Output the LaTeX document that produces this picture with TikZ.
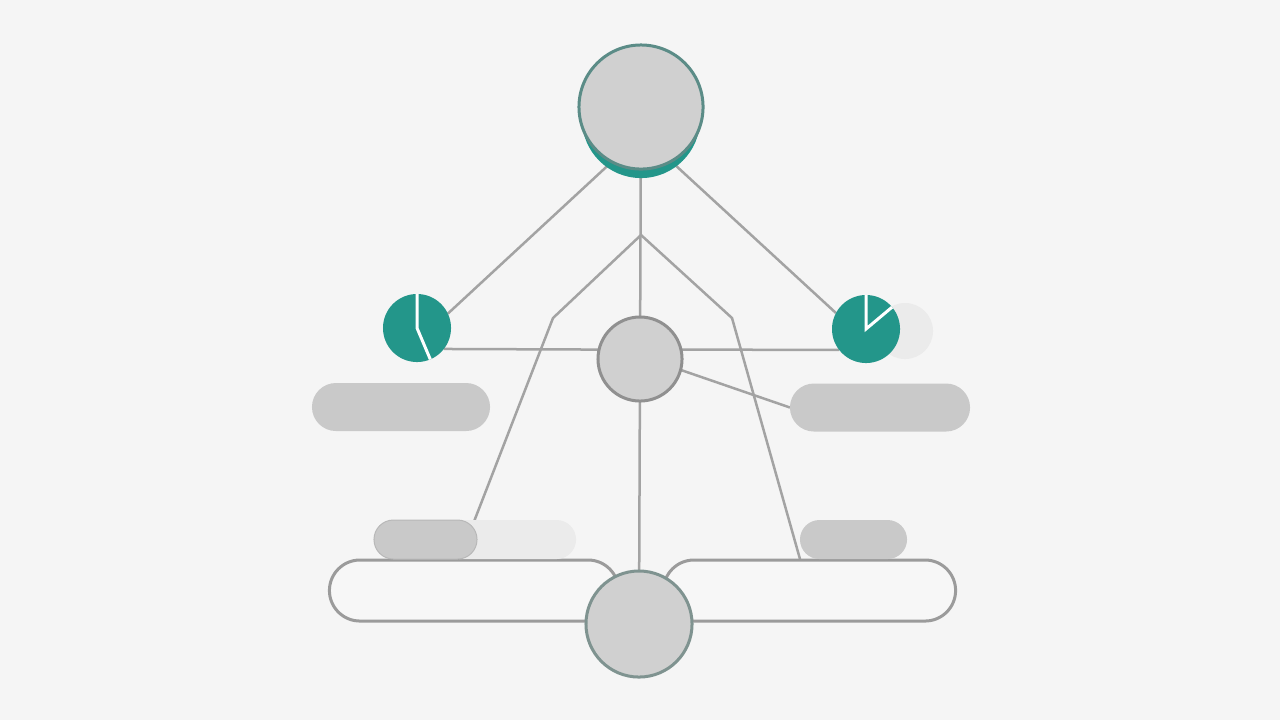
\documentclass[tikz,border=0pt]{standalone}
\usetikzlibrary{calc}
\pgfdeclarelayer{wires}
\pgfsetlayers{wires,main}
\definecolor{paper}{HTML}{F5F5F5}
\definecolor{wire}{HTML}{A3A3A3}
\definecolor{disc}{HTML}{D0D0D0}
\definecolor{tealpie}{HTML}{23968A}
\definecolor{hubrim}{HTML}{5B8C87}
\definecolor{midrim}{HTML}{909090}
\definecolor{baserim}{HTML}{7F9390}
\definecolor{pillgray}{HTML}{C9C9C9}
\definecolor{pillrim}{HTML}{B8B8B8}
\definecolor{ghost}{HTML}{EBEBEB}
\definecolor{railgray}{HTML}{9B9B9B}
\definecolor{railfill}{HTML}{F7F7F7}

\begin{document}
\begin{tikzpicture}[x=0.01cm,y=-0.01cm]
             \tikzstyle{wireline}=[draw=wire,line width=0.025cm]
             \tikzstyle{disc}=[circle,inner sep=0pt,outer sep=0pt,fill=disc]
             \tikzstyle{pie}=[circle,inner sep=0pt,outer sep=0pt,fill=tealpie,minimum size=0.68cm]
             \tikzstyle{cut}=[white,line width=0.03cm]
             \tikzstyle{pill}=[rectangle,inner sep=0pt,outer sep=0pt,fill=pillgray,minimum height=0.48cm,rounded corners=0.24cm]
             \tikzstyle{tab}=[pill,minimum height=0.39cm,rounded corners=0.195cm]
             \tikzstyle{rail}=[rectangle,inner sep=0pt,outer sep=0pt,draw=railgray,fill=railfill,line width=0.03cm,minimum height=0.61cm,rounded corners=0.305cm]
            \useasboundingbox (0,0) rectangle (1280,720);
            % circles
            \node [disc,fill=tealpie,minimum size=1.18cm] (hubshade) at (641,119) {};
            \node [disc,draw=hubrim,line width=0.03cm,minimum size=1.24cm] (hub) at (641,107) {};
            \node [disc,draw=midrim,line width=0.03cm,minimum size=0.84cm] (mid) at (640,359) {};
            % pies
            \node [disc,fill=ghost,minimum size=0.56cm] (ghostR) at (905,331) {};
            \node [pie] (pieL) at (417,328) {};
            \node [pie] (pieR) at (866,329) {};
            \draw [cut] (pieL.north) -- (pieL.center) -- (pieL.-67);
            \draw [cut] (pieR.north) -- (pieR.center) -- (pieR.40);
            % bars
            \node [pill,minimum width=1.78cm] (barL) at (401,407) {};
            \node [pill,minimum width=1.80cm] (barR) at (880,407.5) {};
            \node [rail,minimum width=2.89cm] (railL) at (474,590.5) {};
            \node [rail,minimum width=2.92cm] (railR) at (809.5,590.5) {};
            \node [tab,fill=ghost,minimum width=1.36cm] (ghostL) at (508,539.5) {};
            \node [tab,draw=pillrim,line width=0.01cm,minimum width=1.03cm] (tabL) at (425.5,539.5) {};
            \node [tab,minimum width=1.07cm] (tabR) at (853.5,539.5) {};
            \node [disc,draw=baserim,line width=0.03cm,minimum size=1.06cm] (base) at (639,624) {};
            % connectors
            \begin{pgfonlayer}{wires}
            \fill [paper] (0,0) rectangle (1280,720);
            \coordinate (fork) at (641,235);
            \coordinate (kneeL) at (553,318);
            \coordinate (kneeR) at (732,318);
            \draw [wireline] (hub) -- (mid) -- (base);
            \draw [wireline] (hub.-118) -- (pieL.25);
            \draw [wireline] (hub.-61) -- (pieR.152);
            \draw [wireline] (fork) -- (kneeL) -- ($(tabL.east)+(-10,0)$);
            \draw [wireline] (fork) -- (kneeR) -- (tabR.south west);
            \draw [wireline] (pieL.-38) -- (mid.167);
            \draw [wireline] (mid.13) -- (pieR.218);
            \draw [wireline] (mid.-15) -- (barR.west);
            \end{pgfonlayer}
         \end{tikzpicture}
\end{document}
